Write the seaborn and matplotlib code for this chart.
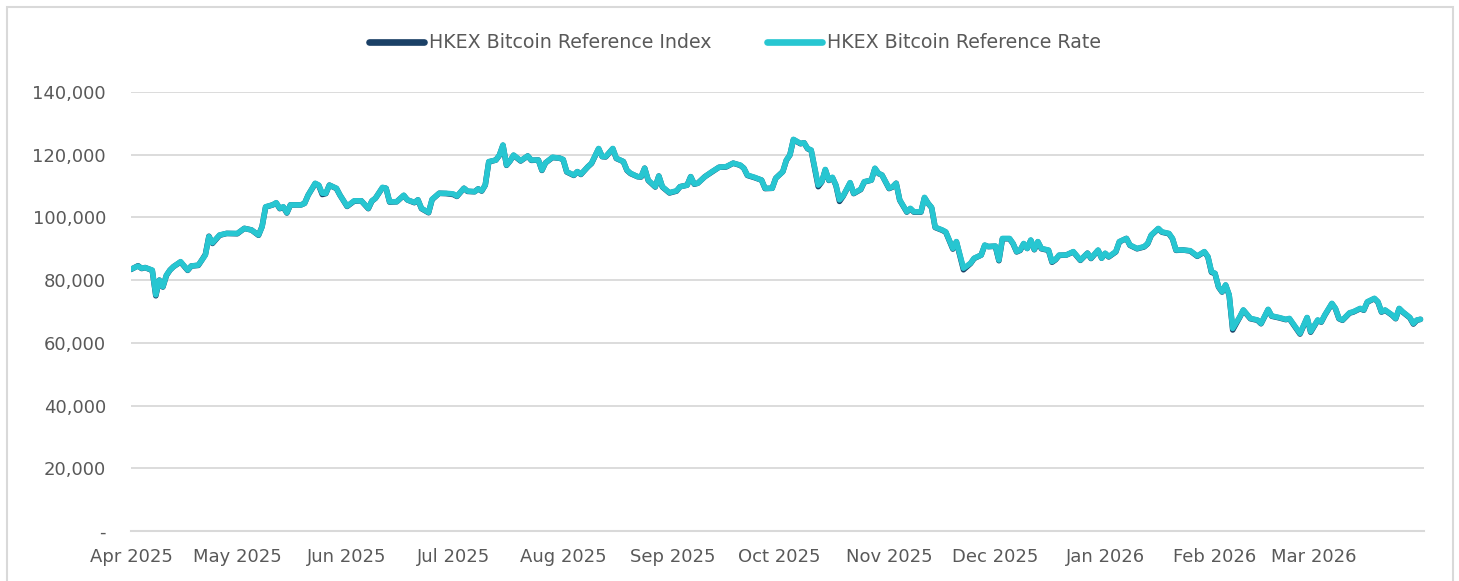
import matplotlib
matplotlib.use("Agg")
import matplotlib.pyplot as plt
from matplotlib.ticker import FuncFormatter
from matplotlib.patches import Rectangle
import seaborn as sns
import pandas as pd

dates = [
    "2025-04-01", "2025-04-03", "2025-04-04", "2025-04-05", "2025-04-07", "2025-04-08", "2025-04-09",
    "2025-04-10", "2025-04-11", "2025-04-12", "2025-04-13", "2025-04-15", "2025-04-17", "2025-04-18",
    "2025-04-20", "2025-04-21", "2025-04-22", "2025-04-23", "2025-04-24", "2025-04-26", "2025-04-28",
    "2025-05-01", "2025-05-03", "2025-05-05", "2025-05-07", "2025-05-08", "2025-05-09", "2025-05-11",
    "2025-05-12", "2025-05-13", "2025-05-14", "2025-05-15", "2025-05-16", "2025-05-19", "2025-05-20",
    "2025-05-21", "2025-05-23", "2025-05-24", "2025-05-25", "2025-05-26", "2025-05-27", "2025-05-29",
    "2025-05-30",
    "2025-06-01", "2025-06-03", "2025-06-05", "2025-06-07", "2025-06-08", "2025-06-09", "2025-06-11",
    "2025-06-12", "2025-06-13", "2025-06-15", "2025-06-17", "2025-06-18", "2025-06-20", "2025-06-21",
    "2025-06-22", "2025-06-24", "2025-06-25", "2025-06-27", "2025-06-29",
    "2025-07-01", "2025-07-02", "2025-07-04", "2025-07-05", "2025-07-07", "2025-07-08", "2025-07-09",
    "2025-07-10", "2025-07-11", "2025-07-13", "2025-07-14", "2025-07-15", "2025-07-16", "2025-07-17",
    "2025-07-18", "2025-07-20", "2025-07-22", "2025-07-23", "2025-07-25", "2025-07-26", "2025-07-27",
    "2025-07-29", "2025-07-31",
    "2025-08-01", "2025-08-02", "2025-08-04", "2025-08-05", "2025-08-06", "2025-08-08", "2025-08-09",
    "2025-08-11", "2025-08-12", "2025-08-13", "2025-08-15", "2025-08-16", "2025-08-18", "2025-08-19",
    "2025-08-20", "2025-08-22", "2025-08-23", "2025-08-24", "2025-08-25", "2025-08-27", "2025-08-28",
    "2025-08-29", "2025-08-31",
    "2025-09-02", "2025-09-03", "2025-09-05", "2025-09-06", "2025-09-07", "2025-09-08", "2025-09-10",
    "2025-09-12", "2025-09-14", "2025-09-16", "2025-09-18", "2025-09-20", "2025-09-21", "2025-09-22",
    "2025-09-24", "2025-09-26", "2025-09-27", "2025-09-29", "2025-09-30",
    "2025-10-02", "2025-10-03", "2025-10-04", "2025-10-05", "2025-10-07", "2025-10-08", "2025-10-09",
    "2025-10-10", "2025-10-12", "2025-10-13", "2025-10-14", "2025-10-15", "2025-10-16", "2025-10-17",
    "2025-10-18", "2025-10-19", "2025-10-21", "2025-10-22", "2025-10-24", "2025-10-25", "2025-10-27",
    "2025-10-28", "2025-10-29", "2025-10-30",
    "2025-11-01", "2025-11-02", "2025-11-03", "2025-11-04", "2025-11-06", "2025-11-07", "2025-11-08",
    "2025-11-10", "2025-11-11", "2025-11-12", "2025-11-13", "2025-11-14", "2025-11-16", "2025-11-17",
    "2025-11-19", "2025-11-20", "2025-11-22", "2025-11-24", "2025-11-25", "2025-11-27", "2025-11-28",
    "2025-11-29",
    "2025-12-01", "2025-12-02", "2025-12-03", "2025-12-05", "2025-12-06", "2025-12-07", "2025-12-08",
    "2025-12-09", "2025-12-10", "2025-12-11", "2025-12-12", "2025-12-13", "2025-12-14", "2025-12-16",
    "2025-12-17", "2025-12-18", "2025-12-19", "2025-12-21", "2025-12-23", "2025-12-25", "2025-12-27",
    "2025-12-28", "2025-12-30", "2025-12-31",
    "2026-01-01", "2026-01-02", "2026-01-04", "2026-01-05", "2026-01-07", "2026-01-08", "2026-01-10",
    "2026-01-12", "2026-01-13", "2026-01-14", "2026-01-16", "2026-01-17", "2026-01-19", "2026-01-20",
    "2026-01-21", "2026-01-23", "2026-01-25", "2026-01-27", "2026-01-29", "2026-01-30", "2026-01-31",
    "2026-02-01", "2026-02-02", "2026-02-03", "2026-02-04", "2026-02-05", "2026-02-06", "2026-02-08",
    "2026-02-09", "2026-02-11", "2026-02-13", "2026-02-14", "2026-02-16", "2026-02-17", "2026-02-19",
    "2026-02-21", "2026-02-22", "2026-02-25", "2026-02-27", "2026-02-28",
    "2026-03-02", "2026-03-03", "2026-03-04", "2026-03-06", "2026-03-07", "2026-03-08", "2026-03-09",
    "2026-03-11", "2026-03-12", "2026-03-14", "2026-03-15", "2026-03-16", "2026-03-18", "2026-03-19",
    "2026-03-20", "2026-03-21", "2026-03-23", "2026-03-24", "2026-03-25", "2026-03-26", "2026-03-28",
    "2026-03-29", "2026-03-30", "2026-03-31",
]

reference_rate = [
    83500, 84500, 83800, 84000, 83200, 75300, 80000, 77900, 81600, 83200, 84300, 85900, 83200, 84500,
    84800, 86400, 88000, 93900, 91900, 94400, 94900,
    94900, 96500, 96000, 94400, 97000, 103400, 104000, 104700, 102900, 103400, 101500, 104000, 104000,
    104500, 107100, 110900, 110300, 107700, 107700, 110300, 109300, 107100,
    103600, 105300, 105300, 102900, 105300, 106100, 109600, 109300, 105000, 105000, 107100, 105600,
    104800, 105600, 102900, 101600, 105800, 107700, 107700,
    107500, 106800, 109300, 108400, 108200, 109100, 108500, 110300, 117800, 118300, 119900, 123100,
    116700, 118000, 119900, 118100, 119600, 118300, 118300, 115100, 117400, 119200, 118900,
    118500, 114600, 113500, 114600, 113800, 116200, 117300, 122000, 119400, 119400, 122000, 118900,
    117800, 115100, 114100, 113000, 113000, 115700, 111900, 109800, 113200, 109800, 107900,
    108500, 109800, 110300, 113000, 110700, 110900, 113000, 114600, 116000, 116200, 117300, 116700,
    115700, 113500, 112800, 111900, 109300, 109300, 112500,
    114600, 118300, 119900, 124900, 123600, 123800, 122000, 121500, 110300, 111400, 115300, 111900,
    112800, 110300, 105600, 106800, 111100, 107700, 109000, 111400, 111900, 115700, 114100, 113500,
    109300, 109800, 110900, 105600, 101800, 102900, 101800, 101800, 106400, 104500, 103200, 96900,
    96000, 95400, 90100, 92300, 83800, 85400, 87000, 88000, 91200, 90700,
    90900, 86400, 93300, 93300, 91700, 89100, 89600, 91700, 90100, 92800, 89800, 92300, 90100, 89600,
    85900, 86600, 88000, 88000, 89100, 86400, 88600, 87000, 89600, 87000,
    88600, 87500, 89100, 92300, 93300, 91200, 90100, 90700, 91700, 94400, 96500, 95400, 94900, 93300,
    89600, 89600, 89400, 87700, 89100, 87500, 82700,
    82200, 77900, 76300, 78500, 75300, 64600, 68300, 70500, 67800, 67300, 66200, 70700, 68600, 68100,
    67500, 67800, 63000, 68100, 63600,
    67300, 66700, 68900, 72600, 71000, 67800, 67300, 69600, 69900, 71000, 70500, 73100, 74200, 73100,
    69900, 70500, 68900, 67800, 71000, 69900, 68100, 66200, 67300, 67500,
]

reference_index = [
    83400, 84600, 83700, 84000, 83100, 75000, 80000, 77800, 81500, 83200, 84300, 85800, 83100, 84500,
    84700, 86400, 88200, 94000, 91700, 94300, 94900,
    94800, 96500, 96000, 94300, 97100, 103300, 104000, 104600, 102800, 103300, 101400, 104000, 104000,
    104500, 107100, 110800, 110200, 107300, 107600, 110300, 109200, 107100,
    103500, 105200, 105300, 102800, 105200, 106100, 109500, 109300, 104900, 105000, 107000, 105600,
    104700, 105600, 102800, 101500, 105700, 107700, 107600,
    107300, 106700, 109300, 108300, 108200, 109100, 108400, 110300, 117700, 118300, 119800, 123000,
    116600, 118000, 119800, 118000, 119600, 118200, 118300, 115000, 117400, 119100, 118900,
    118400, 114500, 113400, 114600, 113700, 116200, 117200, 121900, 119400, 119300, 121900, 118800,
    117800, 115000, 114000, 113000, 112900, 115700, 111800, 109700, 113200, 109700, 107800,
    108400, 109800, 110300, 113000, 110600, 110900, 113000, 114500, 116000, 116100, 117300, 116600,
    115700, 113400, 112700, 111900, 109200, 109300, 112500,
    114600, 118200, 119900, 124800, 123500, 123800, 121900, 121400, 109800, 111300, 115200, 111800,
    112700, 110200, 105100, 106700, 111000, 107600, 108900, 111300, 111900, 115600, 114000, 113500,
    109200, 109700, 110900, 105500, 101700, 102800, 101700, 101700, 106300, 104500, 103100, 96800,
    95900, 95300, 89900, 92200, 83300, 85300, 86900, 88000, 91100, 90700,
    90800, 86200, 93200, 93200, 91600, 89000, 89500, 91600, 90100, 92700, 89700, 92200, 90000, 89500,
    85700, 86500, 87900, 88000, 89000, 86300, 88600, 86900, 89500, 87000,
    88500, 87400, 89000, 92200, 93300, 91100, 90000, 90600, 91600, 94300, 96400, 95300, 94800, 93200,
    89500, 89600, 89300, 87600, 89000, 87400, 82500,
    82100, 77800, 76200, 78400, 75200, 64100, 68200, 70400, 67700, 67200, 66100, 70600, 68500, 68000,
    67400, 67700, 62800, 68000, 63400,
    67200, 66600, 68800, 72500, 70900, 67700, 67200, 69500, 69800, 70900, 70400, 73000, 74100, 73000,
    69800, 70400, 68800, 67700, 70900, 69800, 68000, 66000, 67200, 67500,
]

series_names = ["HKEX Bitcoin Reference Index", "HKEX Bitcoin Reference Rate"]
series_colors = ["#1A4066", "#27C6D1"]
month_ticks = ["2025-04-01", "2025-05-01", "2025-06-01", "2025-07-01", "2025-08-01", "2025-09-01",
               "2025-10-01", "2025-11-01", "2025-12-01", "2026-01-01", "2026-02-01", "2026-03-01",
               "2026-04-01"]
month_labels = ["Apr 2025", "May 2025", "Jun 2025", "Jul 2025", "Aug 2025", "Sep 2025", "Oct 2025",
                "Nov 2025", "Dec 2025", "Jan 2026", "Feb 2026", "Mar 2026", ""]
y_ticks = [0, 20000, 40000, 60000, 80000, 100000, 120000, 140000]

sns.set_style("white")
plt.rcParams["font.family"] = ["DejaVu Sans"]

df = pd.DataFrame({"date": pd.to_datetime(dates),
                   series_names[0]: reference_index,
                   series_names[1]: reference_rate})

W, H = 1459, 581
fig = plt.figure(figsize=(W / 100, H / 100), dpi=100)
fig.patch.set_facecolor("white")
ax = fig.add_axes([131 / W, (H - 531) / H, (1424 - 131) / W, (531 - 92) / H])

sns.lineplot(data=df, x="date", y=series_names[0], ax=ax, color=series_colors[0],
             linewidth=4.0, label=series_names[0])
sns.lineplot(data=df, x="date", y=series_names[1], ax=ax, color=series_colors[1],
             linewidth=4.0, label=series_names[1])

text_color = "#595959"
grid_color = "#D9D9D9"

ax.set_xlim(pd.Timestamp(month_ticks[0]), pd.Timestamp(month_ticks[-1]))
ax.set_ylim(0, 140000)
ax.set_xticks(pd.to_datetime(month_ticks))
ax.set_xticklabels(month_labels)
ax.set_yticks(y_ticks)
ax.yaxis.set_major_formatter(FuncFormatter(lambda v, p: "-" if v == 0 else f"{v:,.0f}"))
ax.set_xlabel("")
ax.set_ylabel("")

ax.grid(axis="y", color=grid_color, linewidth=1.3)
ax.grid(axis="x", visible=False)
ax.set_axisbelow(True)
for s in ["top", "right", "left"]:
    ax.spines[s].set_visible(False)
ax.spines["bottom"].set_color(grid_color)
ax.spines["bottom"].set_linewidth(1.5)
ax.spines["bottom"].set_zorder(0.5)

ax.tick_params(axis="x", direction="out", length=5, width=1.3, color=grid_color,
               labelsize=13, labelcolor=text_color, pad=7)
ax.tick_params(axis="y", length=0, labelsize=13, labelcolor=text_color, pad=18)

ax.legend_.remove()
handles, labels = ax.get_legend_handles_labels()
leg = fig.legend(handles, labels, loc="center", bbox_to_anchor=(735 / W, 1 - 43 / H), ncol=2,
                 frameon=False, fontsize=13.7, handlelength=2.9, handletextpad=0.25,
                 columnspacing=2.9)
for t in leg.get_texts():
    t.set_color(text_color)
for lh in leg.get_lines():
    lh.set_linewidth(4.8)
    lh.set_solid_capstyle("round")

fig.patches.append(Rectangle((7 / W, -0.05), (1453 - 7) / W, 1.05 - 7 / H, transform=fig.transFigure,
                             fill=False, edgecolor="#D9D9D9", linewidth=1.5))

fig.savefig("out.png", dpi=100, facecolor="white")
